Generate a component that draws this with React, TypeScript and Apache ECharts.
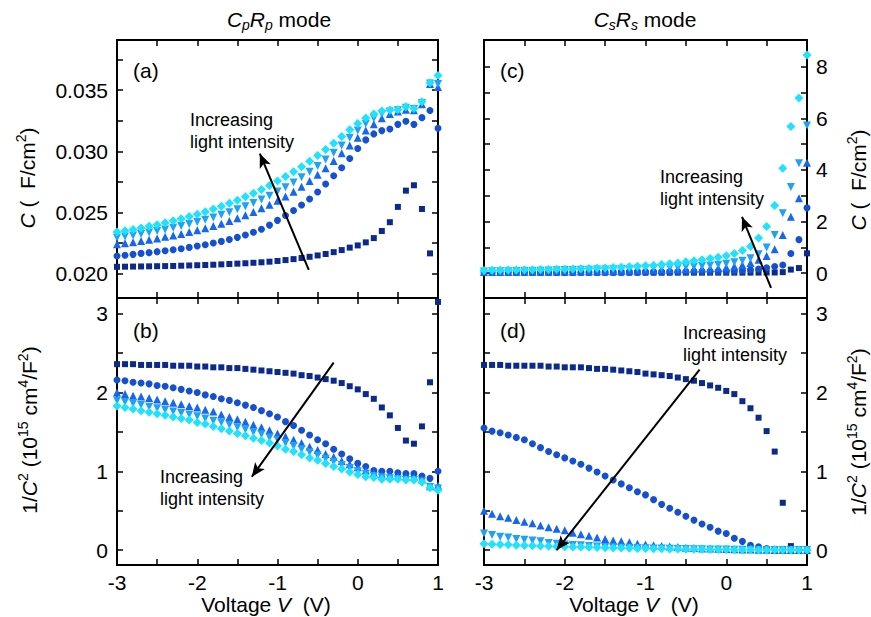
import React, { useEffect, useRef } from "react";
import * as echarts from "echarts";

const voltages = [-3.0,-2.9,-2.8,-2.7,-2.6,-2.5,-2.4,-2.3,-2.2,-2.1,-2.0,-1.9,-1.8,-1.7,-1.6,-1.5,-1.4,-1.3,-1.2,-1.1,-1.0,-0.9,-0.8,-0.7,-0.6,-0.5,-0.4,-0.3,-0.2,-0.1,0.0,0.1,0.2,0.3,0.4,0.5,0.6,0.7,0.8,0.9,1.0];

// Panel (a): Cp, C (F/cm2)
const aSquare = [0.02055,0.02056,0.02057,0.02058,0.02059,0.02060,0.02061,0.02062,0.02064,0.02066,0.02068,0.02070,0.02072,0.02075,0.02078,0.02081,0.02084,0.02088,0.02092,0.02097,0.02103,0.02110,0.02118,0.02127,0.02137,0.02148,0.02160,0.02175,0.02192,0.02212,0.02230,0.02255,0.02290,0.02348,0.02420,0.02545,0.02678,0.02722,0.02528,0.02165,0.01780];
const aCircle = [0.02144,0.02149,0.02157,0.02165,0.02171,0.02179,0.02187,0.02195,0.02203,0.02214,0.02225,0.02236,0.02250,0.02263,0.02279,0.02296,0.02315,0.02338,0.02362,0.02396,0.02435,0.02475,0.02515,0.02561,0.02610,0.02667,0.02732,0.02800,0.02865,0.02941,0.03022,0.03093,0.03142,0.03169,0.03182,0.03220,0.03245,0.03220,0.03275,0.03334,0.03188];
const aTriUp = [0.02239,0.02247,0.02255,0.02266,0.02277,0.02287,0.02300,0.02311,0.02324,0.02340,0.02355,0.02370,0.02388,0.02408,0.02430,0.02453,0.02476,0.02503,0.02533,0.02563,0.02595,0.02630,0.02668,0.02710,0.02757,0.02808,0.02862,0.02920,0.02983,0.03047,0.03110,0.03170,0.03222,0.03270,0.03305,0.03325,0.03340,0.03335,0.03385,0.03550,0.03525];
const aTriDown = [0.02293,0.02302,0.02312,0.02323,0.02335,0.02347,0.02360,0.02374,0.02389,0.02405,0.02422,0.02440,0.02459,0.02480,0.02502,0.02525,0.02550,0.02577,0.02606,0.02637,0.02670,0.02706,0.02745,0.02787,0.02832,0.02880,0.02932,0.02988,0.03048,0.03110,0.03170,0.03225,0.03270,0.03305,0.03325,0.03335,0.03355,0.03345,0.03395,0.03555,0.03550];
const aDiamond = [0.02340,0.02350,0.02361,0.02373,0.02386,0.02400,0.02415,0.02431,0.02448,0.02466,0.02485,0.02505,0.02527,0.02550,0.02574,0.02600,0.02628,0.02657,0.02688,0.02721,0.02756,0.02793,0.02832,0.02874,0.02918,0.02965,0.03014,0.03066,0.03120,0.03175,0.03228,0.03272,0.03305,0.03330,0.03338,0.03340,0.03365,0.03350,0.03405,0.03560,0.03620];

// Panel (b): 1/C^2 (Cp mode)
const bSquare = [2.36,2.36,2.36,2.35,2.35,2.35,2.35,2.34,2.34,2.34,2.33,2.33,2.32,2.32,2.31,2.31,2.30,2.29,2.28,2.27,2.26,2.25,2.24,2.22,2.21,2.19,2.17,2.15,2.12,2.08,2.04,1.98,1.92,1.81,1.71,1.55,1.39,1.35,1.57,2.13,3.15];
const bCircle = [2.16,2.15,2.13,2.12,2.11,2.09,2.08,2.06,2.04,2.02,2.00,1.97,1.95,1.92,1.90,1.87,1.84,1.81,1.77,1.73,1.69,1.63,1.58,1.52,1.46,1.40,1.35,1.28,1.22,1.16,1.10,1.06,1.01,1.00,1.00,0.98,0.97,0.97,0.94,0.91,1.00];
const bTriUp = [2.00,1.98,1.96,1.95,1.93,1.91,1.89,1.87,1.85,1.83,1.81,1.78,1.76,1.72,1.69,1.66,1.63,1.59,1.56,1.52,1.48,1.44,1.40,1.36,1.31,1.27,1.22,1.18,1.13,1.09,1.05,1.01,0.98,0.96,0.95,0.94,0.93,0.93,0.90,0.81,0.82];
const bTriDown = [1.90,1.88,1.86,1.84,1.82,1.80,1.78,1.76,1.74,1.72,1.70,1.67,1.64,1.62,1.59,1.56,1.53,1.50,1.47,1.43,1.40,1.36,1.32,1.28,1.24,1.20,1.16,1.12,1.08,1.04,1.00,0.97,0.94,0.92,0.91,0.90,0.89,0.89,0.87,0.80,0.78];
const bDiamond = [1.83,1.81,1.79,1.77,1.75,1.73,1.71,1.69,1.67,1.65,1.62,1.60,1.57,1.54,1.51,1.48,1.45,1.42,1.39,1.36,1.32,1.28,1.25,1.21,1.17,1.14,1.10,1.06,1.03,0.99,0.96,0.93,0.92,0.90,0.90,0.90,0.89,0.89,0.86,0.79,0.76];

// Panel (c): Cs, C (F/cm2)
const cSquare = [0.020,0.020,0.020,0.020,0.020,0.021,0.021,0.021,0.021,0.021,0.021,0.021,0.021,0.021,0.021,0.021,0.021,0.021,0.021,0.021,0.021,0.021,0.021,0.021,0.022,0.022,0.022,0.022,0.022,0.022,0.022,0.023,0.023,0.024,0.024,0.026,0.028,0.041,0.14,0.20,0.77];
const cCircle = [0.025,0.026,0.026,0.027,0.027,0.028,0.029,0.029,0.030,0.031,0.032,0.033,0.034,0.035,0.036,0.037,0.038,0.040,0.041,0.043,0.045,0.047,0.049,0.052,0.055,0.058,0.061,0.064,0.067,0.070,0.074,0.082,0.094,0.13,0.16,0.21,0.26,0.32,0.76,1.30,2.53];
const cTriUp = [0.045,0.047,0.049,0.051,0.053,0.055,0.057,0.059,0.061,0.063,0.065,0.068,0.072,0.076,0.080,0.085,0.090,0.095,0.100,0.107,0.118,0.125,0.133,0.142,0.150,0.158,0.168,0.178,0.190,0.205,0.225,0.27,0.32,0.40,0.52,0.67,0.93,1.48,2.19,2.90,4.28];
const cTriDown = [0.069,0.072,0.075,0.078,0.082,0.086,0.090,0.095,0.100,0.110,0.120,0.125,0.130,0.136,0.142,0.148,0.154,0.160,0.166,0.173,0.180,0.190,0.200,0.212,0.225,0.25,0.26,0.28,0.30,0.33,0.37,0.42,0.48,0.58,0.73,1.00,1.48,2.32,3.34,4.26,5.72];
const cDiamond = [0.10,0.11,0.11,0.12,0.12,0.13,0.13,0.14,0.14,0.15,0.155,0.16,0.17,0.18,0.19,0.20,0.22,0.23,0.25,0.27,0.29,0.31,0.34,0.37,0.40,0.44,0.48,0.52,0.57,0.62,0.68,0.76,0.88,1.03,1.36,1.81,2.62,4.06,5.68,6.78,8.45];

// Panel (d): 1/C^2 (Cs mode)
const dSquare = [2.35,2.35,2.35,2.34,2.34,2.34,2.34,2.34,2.33,2.33,2.32,2.32,2.32,2.31,2.30,2.30,2.29,2.28,2.27,2.26,2.24,2.23,2.22,2.21,2.19,2.17,2.15,2.12,2.09,2.06,2.02,1.98,1.89,1.80,1.68,1.51,1.25,0.60,0.05,0.01,0.0];
const dCircle = [1.55,1.51,1.49,1.46,1.43,1.40,1.35,1.30,1.25,1.21,1.17,1.13,1.09,1.04,0.99,0.94,0.89,0.84,0.79,0.74,0.70,0.64,0.58,0.53,0.48,0.43,0.38,0.33,0.29,0.24,0.21,0.15,0.11,0.06,0.04,0.02,0.01,0.0,0.0,0.0,0.0];
const dTriUp = [0.50,0.46,0.43,0.41,0.38,0.36,0.34,0.31,0.29,0.27,0.25,0.22,0.20,0.18,0.16,0.14,0.12,0.11,0.10,0.08,0.07,0.06,0.05,0.045,0.04,0.03,0.025,0.02,0.018,0.015,0.012,0.01,0.008,0.006,0.004,0.003,0.002,0.001,0,0,0];
const dTriDown = [0.21,0.19,0.17,0.16,0.14,0.13,0.12,0.11,0.09,0.08,0.07,0.065,0.06,0.05,0.045,0.04,0.035,0.03,0.028,0.025,0.022,0.02,0.018,0.015,0.013,0.012,0.01,0.009,0.008,0.007,0.006,0.005,0.004,0.003,0.002,0.002,0.001,0.001,0,0,0];
const dDiamond = [0.08,0.075,0.07,0.066,0.062,0.058,0.055,0.052,0.048,0.045,0.042,0.04,0.037,0.034,0.032,0.03,0.027,0.025,0.023,0.021,0.019,0.017,0.015,0.014,0.012,0.011,0.01,0.009,0.008,0.007,0.006,0.005,0.004,0.003,0.002,0.002,0.001,0.001,0,0,0];

// Axis ticks and labels
const xTicks = [-3,-2.5,-2,-1.5,-1,-0.5,0,0.5,1];
const xLabels = [-3,-2,-1,0,1];
const aTicks = [0.0200,0.0225,0.0250,0.0275,0.0300,0.0325,0.0350,0.0375];
const aLabels = [0.020,0.025,0.030,0.035];
const invTicks = [0,0.5,1,1.5,2,2.5,3];
const invLabels = [0,1,2,3];
const cTicks = [0,1,2,3,4,5,6,7,8];
const cLabels = [0,2,4,6,8];

// Arrow annotations [x1,y1] -> [x2,y2] in data coordinates
const arrowA = [[-0.61, 0.02030], [-1.22, 0.02980]];
const arrowB = [[-0.30, 2.38], [-1.32, 0.93]];
const arrowC = [[0.555, -0.57], [0.195, 2.18]];
const arrowD = [[-0.33, 2.29], [-2.10, 0.0]];

const FONT = "Liberation Sans";
const COLORS = ["#0b2a8c", "#1450d0", "#1666f2", "#1fa2f4", "#1fe2ff"];
const SYMBOLS = ["rect", "circle", "triangle", "path://M0,0L10,0L5,9Z", "diamond"];
const SIZES = [6, 7, 8, 8, 9];

const grids = [
  { left: 117, top: 40, width: 321, height: 258 },
  { left: 117, top: 298, width: 321, height: 267 },
  { left: 484, top: 40, width: 323, height: 258 },
  { left: 484, top: 298, width: 323, height: 267 },
];
const yRanges = [
  [0.0180, 0.0391],
  [-0.19, 3.2],
  [-0.96, 9.03],
  [-0.19, 3.2],
];

function xAxis(gridIndex: number, position: string, showLabels: boolean) {
  return {
    type: "value",
    gridIndex,
    position,
    min: -3,
    max: 1,
    axisLine: { show: true, onZero: false, lineStyle: { color: "#000", width: 2 } },
    axisTick: { show: true, inside: true, length: 6, customValues: xTicks, lineStyle: { color: "#000", width: 1.5 } },
    axisLabel: { show: showLabels, customValues: xLabels, margin: 7, color: "#000", fontSize: 21, fontFamily: FONT },
    splitLine: { show: false },
  };
}

function yAxis(gridIndex: number, position: string, showLabels: boolean, ticks: number[], labels: number[], fmt?: (v: number) => string) {
  return {
    type: "value",
    gridIndex,
    position,
    min: yRanges[gridIndex][0],
    max: yRanges[gridIndex][1],
    axisLine: { show: true, onZero: false, lineStyle: { color: "#000", width: 2 } },
    axisTick: { show: true, inside: true, length: 6, customValues: ticks, lineStyle: { color: "#000", width: 1.5 } },
    axisLabel: { show: showLabels, customValues: labels, margin: 9, color: "#000", fontSize: 21, fontFamily: FONT, formatter: fmt },
    splitLine: { show: false },
  };
}

function panelSeries(gridIndex: number, yIdx: number, sets: number[][], arrow: number[][]) {
  return sets.map((arr, k) => {
    const s: any = {
      type: "scatter",
      xAxisIndex: gridIndex * 2,
      yAxisIndex: yIdx,
      symbol: SYMBOLS[k],
      symbolSize: SIZES[k],
      itemStyle: { color: COLORS[k], opacity: 1 },
      clip: true,
      silent: true,
      data: voltages.map((v, i) => [v, arr[i]]),
      z: 2 + k,
    };
    if (k === 0) {
      s.markLine = {
        silent: true,
        symbol: ["none", "arrow"],
        symbolSize: [9, 14],
        label: { show: false },
        lineStyle: { color: "#000", width: 2, type: "solid", opacity: 1 },
        itemStyle: { color: "#000" },
        data: [[{ coord: arrow[0] }, { coord: arrow[1] }]],
        z: 10,
      };
    }
    return s;
  });
}

const baseRich = {
  n: { fontFamily: FONT, fontSize: 21, fill: "#000", lineHeight: 26 },
  i: { fontFamily: FONT, fontSize: 21, fontStyle: "italic", fill: "#000", lineHeight: 26 },
  sup: { fontFamily: FONT, fontSize: 14, fill: "#000", lineHeight: 14, verticalAlign: "top" },
  sub: { fontFamily: FONT, fontSize: 14, fontStyle: "italic", fill: "#000", lineHeight: 12, verticalAlign: "bottom" },
};

function richText(x: number, y: number, text: string, rotation = 0) {
  return {
    type: "text",
    x,
    y,
    rotation,
    silent: true,
    style: { text, x: 0, y: 0, align: "center", verticalAlign: "middle", rich: baseRich, fontFamily: FONT, fontSize: 21, fill: "#000" },
  };
}

function plainText(x: number, y: number, text: string, size: number, align = "left") {
  return {
    type: "text",
    x,
    y,
    silent: true,
    style: { text, align, verticalAlign: "middle", fontFamily: FONT, fontSize: size, fill: "#000" },
  };
}

const option: any = {
  animation: false,
  backgroundColor: "#fff",
  grid: grids.map((g) => ({ ...g, containLabel: false })),
  xAxis: [
    xAxis(0, "bottom", false), xAxis(0, "top", false),
    xAxis(1, "bottom", true), xAxis(1, "top", false),
    xAxis(2, "bottom", false), xAxis(2, "top", false),
    xAxis(3, "bottom", true), xAxis(3, "top", false),
  ],
  yAxis: [
    yAxis(0, "left", true, aTicks, aLabels, (v: number) => v.toFixed(3)), yAxis(0, "right", false, aTicks, aLabels),
    yAxis(1, "left", true, invTicks, invLabels), yAxis(1, "right", false, invTicks, invLabels),
    yAxis(2, "left", false, cTicks, cLabels), yAxis(2, "right", true, cTicks, cLabels),
    yAxis(3, "left", false, invTicks, invLabels), yAxis(3, "right", true, invTicks, invLabels),
  ],
  series: [
    ...panelSeries(0, 0, [aSquare, aCircle, aTriUp, aTriDown, aDiamond], arrowA),
    ...panelSeries(1, 2, [bSquare, bCircle, bTriUp, bTriDown, bDiamond], arrowB),
    ...panelSeries(2, 4, [cSquare, cCircle, cTriUp, cTriDown, cDiamond], arrowC),
    ...panelSeries(3, 6, [dSquare, dCircle, dTriUp, dTriDown, dDiamond], arrowD),
  ],
  graphic: [
    richText(279, 19, "{i|C}{sub|p}{i|R}{sub|p}{n| mode}"),
    richText(645, 19, "{i|C}{sub|s}{i|R}{sub|s}{n| mode}"),
    plainText(133, 70, "(a)", 21),
    plainText(133, 330, "(b)", 21),
    plainText(500, 70, "(c)", 21),
    plainText(500, 330, "(d)", 21),
    plainText(190, 120, "Increasing", 18),
    plainText(190, 142, "light intensity", 18),
    plainText(160, 477, "Increasing", 18),
    plainText(160, 499, "light intensity", 18),
    plainText(660, 177, "Increasing", 18),
    plainText(660, 199, "light intensity", 18),
    plainText(683, 333, "Increasing", 18),
    plainText(683, 355, "light intensity", 18),
    richText(27, 178, "{i|C}{n| (  F/cm}{sup|2}{n|)}", Math.PI / 2),
    richText(29, 430, "{n|1/}{i|C}{sup|2}{n| (10}{sup|15}{n| cm}{sup|4}{n|/F}{sup|2}{n|)}", Math.PI / 2),
    richText(858, 180, "{i|C}{n| (  F/cm}{sup|2}{n|)}", Math.PI / 2),
    richText(858, 432, "{n|1/}{i|C}{sup|2}{n| (10}{sup|15}{n| cm}{sup|4}{n|/F}{sup|2}{n|)}", Math.PI / 2),
    richText(266, 604, "{n|Voltage }{i|V}{n|  (V)}"),
    richText(634, 604, "{n|Voltage }{i|V}{n|  (V)}"),
  ],
};

export default function App() {
  const ref = useRef<HTMLDivElement>(null);
  useEffect(() => {
    if (!ref.current) return;
    const chart = echarts.init(ref.current, null, { renderer: "svg" });
    chart.setOption(option);
    return () => chart.dispose();
  }, []);
  return (
    <div
      ref={ref}
      style={{ position: "absolute", left: 0, top: 0, width: 871, height: 617, background: "#fff" }}
    />
  );
}
